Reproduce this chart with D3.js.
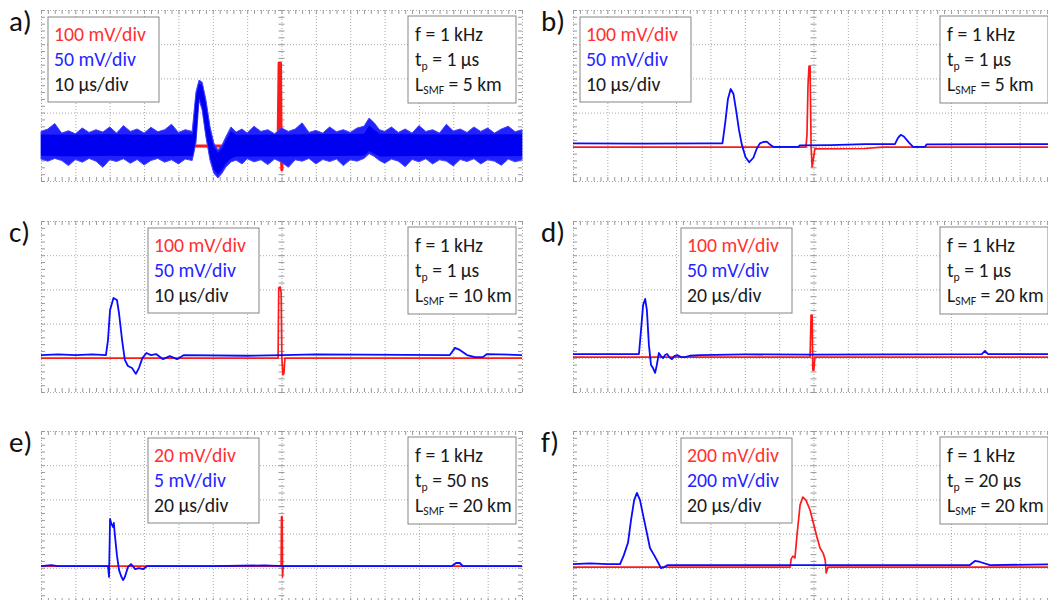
<!DOCTYPE html>
<html>
<head>
<meta charset="utf-8">
<script src="https://d3js.org/d3.v7.min.js"></script>
<style>
body { margin: 0; background: #fff; }
text { font-family: Carlito, Lato, "Noto Sans", sans-serif; }
</style>
</head>
<body>
<svg width="1048" height="600"></svg>
<script>
// x in divisions (0..14), y in divisions above the bottom edge (0..5)
var labels = ["a)", "b)", "c)", "d)", "e)", "f)"];
var redScale = ["100 mV/div", "100 mV/div", "100 mV/div", "100 mV/div", "20 mV/div", "200 mV/div"];
var blueScale = ["50 mV/div", "50 mV/div", "50 mV/div", "50 mV/div", "5 mV/div", "200 mV/div"];
var timeScale = ["10 µs/div", "10 µs/div", "10 µs/div", "20 µs/div", "20 µs/div", "20 µs/div"];
var freq = ["1 kHz", "1 kHz", "1 kHz", "1 kHz", "1 kHz", "1 kHz"];
var pulseWidth = ["1 µs", "1 µs", "1 µs", "1 µs", "50 ns", "20 µs"];
var fiberLen = ["5 km", "5 km", "10 km", "20 km", "20 km", "20 km"];

// panel a: noisy blue trace as [x, low, high] envelope
var aBlueBand = [
  [0.00,0.64,1.45],[0.20,0.58,1.52],[0.40,0.66,1.68],[0.60,0.60,1.40],[0.80,0.45,1.47],
  [1.00,0.63,1.38],[1.20,0.55,1.55],[1.40,0.66,1.42],[1.60,0.58,1.50],[1.80,0.40,1.43],
  [2.00,0.62,1.58],[2.20,0.57,1.40],[2.40,0.65,1.62],[2.60,0.52,1.45],[2.80,0.63,1.52],
  [3.00,0.47,1.40],[3.20,0.60,1.57],[3.40,0.66,1.44],[3.60,0.55,1.50],[3.80,0.62,1.66],
  [4.00,0.50,1.42],[4.20,0.64,1.50],[4.40,0.60,1.45],
  [4.51,1.11,2.60],[4.60,2.37,2.95],[4.69,2.08,2.89],[4.80,1.29,2.37],[4.92,0.61,1.58],
  [5.03,0.23,1.11],[5.15,0.09,0.91],[5.27,0.23,1.05],[5.38,0.41,1.29],[5.53,0.56,1.58],
  [5.68,0.61,1.43],[5.85,0.50,1.52],[6.00,0.65,1.40],[6.20,0.56,1.60],[6.40,0.62,1.45],
  [6.60,0.48,1.50],[6.80,0.64,1.38],[7.00,0.55,1.55],[7.20,0.40,1.45],[7.40,0.62,1.52],
  [7.60,0.58,1.70],[7.80,0.66,1.42],[8.00,0.50,1.48],[8.20,0.63,1.40],[8.40,0.57,1.58],
  [8.60,0.64,1.44],[8.80,0.45,1.50],[9.00,0.62,1.42],[9.20,0.58,1.55],[9.40,0.66,1.60],
  [9.55,0.80,1.84],[9.70,0.72,1.70],[9.85,0.60,1.50],[10.00,0.52,1.45],[10.20,0.64,1.58],
  [10.40,0.58,1.42],[10.60,0.42,1.52],[10.80,0.63,1.40],[11.00,0.56,1.62],[11.20,0.65,1.45],
  [11.40,0.50,1.50],[11.60,0.62,1.40],[11.80,0.58,1.66],[12.00,0.44,1.46],[12.20,0.63,1.52],
  [12.40,0.57,1.42],[12.60,0.65,1.58],[12.80,0.50,1.45],[13.00,0.62,1.55],[13.20,0.58,1.40],
  [13.40,0.46,1.52],[13.60,0.64,1.60],[13.80,0.56,1.44],[14.00,0.62,1.50]
];
// dense core of the same noisy trace
var aBlueCore = [
  [0.00,0.74,1.36],[1.00,0.72,1.35],[2.00,0.74,1.37],[3.00,0.72,1.35],[4.00,0.73,1.36],[4.42,0.74,1.36],
  [4.51,1.25,2.45],[4.60,2.45,2.85],[4.69,2.18,2.80],[4.80,1.40,2.25],[4.92,0.72,1.48],
  [5.03,0.33,1.00],[5.15,0.20,0.82],[5.27,0.33,0.95],[5.38,0.52,1.18],[5.53,0.66,1.45],
  [5.68,0.72,1.35],[7.00,0.72,1.36],[9.40,0.74,1.38],[9.55,0.88,1.62],[9.70,0.80,1.50],
  [9.85,0.72,1.38],[11.00,0.73,1.36],[12.50,0.72,1.36],[14.00,0.73,1.37]
];
var aRed = [[0,1.02],[6.90,1.02],[6.93,3.45],[6.97,3.45],[6.99,1.0],[7.01,0.32],[7.04,1.02],[14,1.02]];

var bBlue = [[0,1.10],[2.0,1.09],[4.0,1.10],[4.35,1.10],[4.43,1.70],[4.51,2.40],[4.59,2.69],[4.67,2.55],
  [4.75,2.05],[4.83,1.50],[4.91,1.08],[5.02,0.70],[5.13,0.55],[5.25,0.68],[5.35,0.95],[5.44,1.10],
  [5.54,1.14],[5.64,1.15],[5.73,1.07],[5.83,1.00],[6.56,1.00],[6.60,1.04],[7.5,1.05],[8.5,1.08],
  [9.37,1.08],[9.46,1.26],[9.54,1.35],[9.63,1.30],[9.78,1.12],[9.90,1.00],[10.25,1.00],[10.29,1.07],[14,1.08]];
var bRed = [[0,0.99],[6.78,0.99],[6.81,1.35],[6.84,2.8],[6.87,3.36],[6.90,3.36],[6.93,1.0],[6.96,0.41],
  [6.99,0.6],[7.04,0.94],[8.5,0.95],[9,0.99],[14,0.99]];

var cBlue = [[0,1.08],[0.5,1.10],[1.0,1.08],[1.5,1.10],[1.89,1.08],[1.95,1.52],[2.01,2.40],[2.11,2.75],
  [2.21,2.69],[2.27,2.31],[2.36,1.52],[2.44,0.94],[2.53,0.76],[2.65,0.70],[2.76,0.53],[2.85,0.70],
  [2.95,0.99],[3.07,1.14],[3.20,1.08],[3.35,1.11],[3.55,0.96],[3.75,1.05],[3.96,0.96],[4.16,1.08],
  [6,1.06],[7.05,1.08],[8,1.10],[11.90,1.08],[12.05,1.29],[12.19,1.23],[12.40,1.08],[12.63,1.02],
  [12.86,1.02],[12.98,1.11],[14,1.08]];
var cRed = [[0,0.99],[6.90,0.99],[6.92,3.05],[6.96,3.07],[6.99,2.9],[7.01,1.0],[7.04,0.50],[7.07,0.55],[7.10,0.99],[14,0.99]];

var dBlue = [[0,1.11],[1.92,1.11],[1.98,1.81],[2.04,2.54],[2.10,2.72],[2.15,2.40],[2.21,1.37],[2.27,0.79],
  [2.33,0.70],[2.39,0.56],[2.44,0.79],[2.50,1.14],[2.56,1.05],[2.62,0.99],[2.68,1.08],[2.74,1.11],
  [2.80,1.02],[2.88,0.96],[2.95,1.05],[3.03,1.08],[3.15,1.02],[3.26,1.02],[3.40,1.06],[3.70,1.08],
  [5,1.10],[7,1.09],[11.90,1.11],[11.99,1.20],[12.08,1.11],[14,1.11]];
var dRed = [[0,1.02],[6.90,1.02],[6.93,2.25],[6.96,2.25],[6.98,0.64],[7.01,0.64],[7.04,1.02],[14,1.02]];

var eBlue = [[0,1.05],[0.3,1.08],[0.5,1.05],[1.95,1.05],[1.98,0.73],[2.01,2.43],[2.05,2.28],[2.10,2.19],
  [2.12,2.31],[2.15,1.96],[2.21,1.37],[2.27,0.94],[2.33,0.76],[2.39,0.64],[2.44,0.73],[2.53,1.02],
  [2.62,1.11],[2.74,0.96],[2.85,0.99],[2.97,0.96],[3.09,1.05],[5,1.05],[6.5,1.07],[7.05,1.05],
  [11.96,1.05],[12.08,1.14],[12.19,1.14],[12.28,1.05],[14,1.05]];
var eRed = [[0,1.05],[6.99,1.05],[7.00,2.49],[7.02,2.49],[7.03,0.73],[7.05,1.05],[14,1.05]];

var fBlue = [[0,1.11],[0.5,1.13],[1.0,1.11],[1.37,1.11],[1.48,1.37],[1.60,1.73],[1.69,2.40],[1.78,2.98],
  [1.86,3.19],[1.95,2.98],[2.04,2.54],[2.15,2.02],[2.24,1.58],[2.36,1.37],[2.47,1.17],[2.56,0.99],
  [2.65,1.02],[2.76,1.08],[7,1.08],[11.55,1.08],[11.70,1.20],[11.85,1.17],[12.14,1.08],[14,1.10]];
var fRed = [[0,1.02],[6.32,1.02],[6.35,1.26],[6.40,1.34],[6.46,1.29],[6.52,1.96],[6.61,2.84],[6.69,3.07],
  [6.78,2.98],[6.90,2.69],[7.01,2.25],[7.10,1.90],[7.19,1.58],[7.28,1.43],[7.34,1.23],[7.37,0.85],
  [7.42,1.02],[14,1.02]];

var blues = [null, bBlue, cBlue, dBlue, eBlue, fBlue];
var reds = [aRed, bRed, cRed, dRed, eRed, fRed];

var svg = d3.select("svg");
var W = 481, H = 171;
var x = d3.scaleLinear().domain([0, 14]).range([0, W]);
var y = d3.scaleLinear().domain([0, 5]).range([H, 0]);

var origins = [[41, 10], [573, 10], [41, 221], [573, 221], [41, 431], [573, 431]];
var leftBoxX = [7, 7, 107, 108, 107, 108];

var line = d3.line().x(d => x(d[0])).y(d => y(d[1]));
var band = d3.area().x(d => x(d[0])).y0(d => y(d[1])).y1(d => y(d[2]));

function noDomain(s) { s.select(".domain").remove(); }

function drawGrid(g) {
  var gridColor = "#a8a8a8";
  g.append("g")
    .call(d3.axisBottom(x).tickValues(d3.range(0, 15)).tickSize(H).tickFormat(""))
    .call(noDomain)
    .selectAll("line").attr("stroke", gridColor).attr("stroke-dasharray", "1,2");
  g.append("g")
    .call(d3.axisRight(y).tickValues(d3.range(0, 6)).tickSize(W).tickFormat(""))
    .call(noDomain)
    .selectAll("line").attr("stroke", gridColor).attr("stroke-dasharray", "1,2");

  var minorX = d3.range(0, 14.001, 0.2), minorY = d3.range(0, 5.001, 0.2);
  var tk = [
    [d3.axisBottom(x).tickValues(minorX).tickSize(4), 0, 0],
    [d3.axisTop(x).tickValues(minorX).tickSize(4), 0, H],
    [d3.axisRight(y).tickValues(minorY).tickSize(4), 0, 0],
    [d3.axisLeft(y).tickValues(minorY).tickSize(4), W, 0],
    [d3.axisRight(y).tickValues(minorY).tickSize(6), x(7) - 3, 0]
  ];
  tk.forEach(function(t) {
    g.append("g").attr("transform", "translate(" + t[1] + "," + t[2] + ")")
      .call(t[0].tickFormat(""))
      .call(noDomain)
      .selectAll("line").attr("stroke", "#9a9a9a");
  });
}

origins.forEach(function(o, i) {
  var g = svg.append("g").attr("transform", "translate(" + o[0] + "," + o[1] + ")");
  drawGrid(g);

  g.append("path").datum(reds[i])
    .attr("d", line).attr("fill", "none").attr("stroke", "#ff1a1a")
    .attr("stroke-width", i == 0 ? 3 : 1.7).attr("stroke-linejoin", "round");

  if (i == 0) {
    g.append("path").datum(aBlueBand)
      .attr("d", band).attr("fill", "#2222ff").attr("stroke", "#4040ff").attr("stroke-width", 1);
    g.append("path").datum(aBlueCore)
      .attr("d", band).attr("fill", "#0000f0");
  } else {
    g.append("path").datum(blues[i])
      .attr("d", line).attr("fill", "none").attr("stroke", "#0a0aff")
      .attr("stroke-width", 1.8).attr("stroke-linejoin", "round");
  }

  // channel scale box
  var lb = g.append("g").attr("transform", "translate(" + leftBoxX[i] + ",7)");
  lb.append("rect").attr("width", 111).attr("height", 85)
    .attr("fill", "#fff").attr("stroke", "#858585");
  var rows = [[redScale[i], "#ff3030"], [blueScale[i], "#2424ff"], [timeScale[i], "#1a1a1a"]];
  rows.forEach(function(r, k) {
    lb.append("text").attr("class", "lt").attr("x", 6).attr("y", 24 + k * 25)
      .attr("font-size", 21).attr("fill", r[1]).text(r[0]);
  });

  // parameter box
  var rb = g.append("g").attr("transform", "translate(367,6)");
  rb.append("rect").attr("width", 108).attr("height", 87)
    .attr("fill", "#fff").attr("stroke", "#858585");
  var t1 = rb.append("text").attr("class", "rt").attr("x", 7).attr("y", 25).attr("fill", "#1a1a1a");
  t1.text("f = " + freq[i]);
  var t2 = rb.append("text").attr("class", "rt").attr("x", 7).attr("y", 50).attr("fill", "#1a1a1a");
  t2.append("tspan").text("t");
  t2.append("tspan").attr("class", "sub").attr("dy", 4).text("p");
  t2.append("tspan").attr("dy", -4).text(" = " + pulseWidth[i]);
  var t3 = rb.append("text").attr("class", "rt").attr("x", 7).attr("y", 75).attr("fill", "#1a1a1a");
  t3.append("tspan").text("L");
  t3.append("tspan").attr("class", "sub").attr("dy", 3).text("SMF");
  t3.append("tspan").attr("dy", -3).text(" = " + fiberLen[i]);

  svg.append("text").attr("x", o[0] - 32).attr("y", o[1] + 21)
    .attr("font-size", 29).attr("fill", "#111").text(labels[i]);
});

function setRight(size) {
  svg.selectAll("text.rt").attr("font-size", size);
  svg.selectAll("tspan.sub").attr("font-size", size * 0.6);
}
setRight(19.5);

// once the font is really loaded, size the box text to the widths seen in the picture
function fitSize(str, width) {
  var t = svg.append("text").attr("font-size", 20).text(str);
  var w = t.node().getComputedTextLength();
  t.remove();
  return 20 * width / w;
}
document.fonts.load("20px Lato").then(function() {
  svg.selectAll("text.lt").attr("font-size", fitSize("100 mV/div", 92));
  setRight(fitSize("f = 1 kHz", 68));
});
</script>
</body>
</html>
